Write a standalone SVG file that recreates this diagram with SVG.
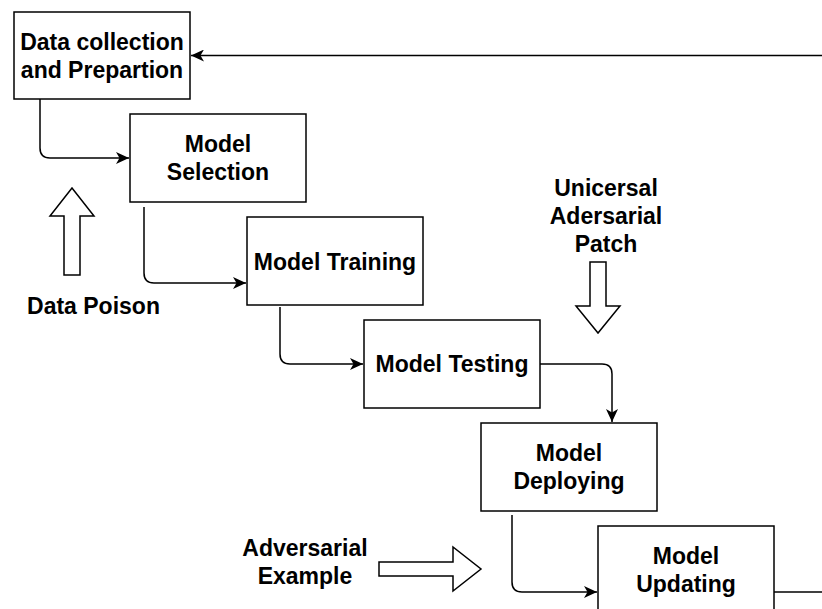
<svg xmlns="http://www.w3.org/2000/svg" width="822" height="609" viewBox="0 0 822 609">
<defs>
<style>
.box{fill:#fff;stroke:#000;stroke-width:1.5}
.t{font-family:"Liberation Sans",Arial,sans-serif;font-weight:bold;font-size:23px;fill:#000;text-anchor:middle}
.c{fill:none;stroke:#000;stroke-width:1.5}
.blk{fill:#fff;stroke:#000;stroke-width:1.5;stroke-linejoin:miter}
</style>
<marker id="ah" markerUnits="userSpaceOnUse" markerWidth="14" markerHeight="12" viewBox="0 0 14 12" refX="13" refY="6" orient="auto">
<path d="M0,0 L13,6 L0,12 L3.5,6 Z" fill="#000"/>
</marker>
</defs>
<rect width="822" height="609" fill="#fff"/>
<g id="connectors">
<path class="c" d="M822,55.5 H191" marker-end="url(#ah)"/>
<path class="c" d="M40,99 V148 Q40,158 50,158 H129" marker-end="url(#ah)"/>
<path class="c" d="M144,207 V273 Q144,283 154,283 H246" marker-end="url(#ah)"/>
<path class="c" d="M280,307 V354 Q280,364 290,364 H363" marker-end="url(#ah)"/>
<path class="c" d="M540,364 H602 Q612,364 612,374 V422" marker-end="url(#ah)"/>
<path class="c" d="M512,515 V582 Q512,592 522,592 H597" marker-end="url(#ah)"/>
<path class="c" d="M774,592 H822"/>
</g>
<g id="n1"><rect class="box" x="14" y="12" width="176" height="87"/><text class="t" x="102" y="50">Data collection</text><text class="t" x="102" y="77.5">and Prepartion</text></g>
<g id="n2"><rect class="box" x="130" y="114" width="176" height="88"/><text class="t" x="218" y="152.4">Model</text><text class="t" x="218" y="180">Selection</text></g>
<g id="n3"><rect class="box" x="247" y="217" width="176" height="88"/><text class="t" x="335" y="269.5">Model Training</text></g>
<g id="n4"><rect class="box" x="364" y="320" width="176" height="88"/><text class="t" x="452" y="372">Model Testing</text></g>
<g id="n5"><rect class="box" x="481" y="423" width="176" height="88"/><text class="t" x="569" y="461.4">Model</text><text class="t" x="569" y="489">Deploying</text></g>
<g id="n6"><rect class="box" x="598" y="526" width="176" height="88"/><text class="t" x="686" y="564.4">Model</text><text class="t" x="686" y="592">Updating</text></g>
<g id="dataPoison"><polygon class="blk" points="72,188 94,216 80,216 80,275 64,275 64,216 50,216"/><text class="t" x="93.5" y="314">Data Poison</text></g>
<g id="patch"><text class="t" x="606" y="196">Unicersal</text><text class="t" x="606" y="224">Adersarial</text><text class="t" x="606" y="252">Patch</text><polygon class="blk" points="590,262 606,262 606,306 620,306 598,333 576,306 590,306"/></g>
<g id="advExample"><text class="t" x="305" y="556">Adversarial</text><text class="t" x="305" y="584">Example</text><polygon class="blk" points="379,562 453,562 453,547 481,569 453,591 453,576 379,576"/></g>
</svg>
